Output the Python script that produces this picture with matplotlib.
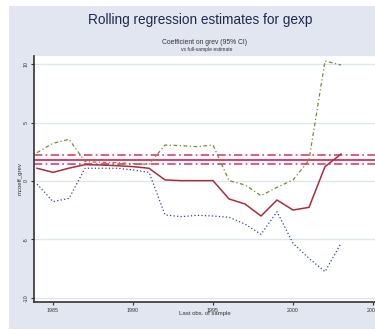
import matplotlib
matplotlib.use("Agg")
import matplotlib.pyplot as plt
from matplotlib.patches import Rectangle

plt.rcParams['font.family'] = ['Liberation Sans', 'DejaVu Sans']
plt.rcParams['axes.unicode_minus'] = False

years = list(range(1984, 2004))
coef = [1.09, 0.74, 1.10, 1.40, 1.37, 1.31, 1.23, 1.09, 0.09, 0.03,
        0.03, 0.03, -1.54, -1.97, -3.00, -1.63, -2.49, -2.26, 1.23, 2.31]
upper = [2.43, 3.23, 3.57, 1.66, 1.60, 1.57, 1.49, 1.43, 3.08, 3.03,
         2.94, 3.08, 0.03, -0.34, -1.26, -0.54, 0.09, 1.80, 10.28, 9.94]
lower = [-0.26, -1.77, -1.49, 1.09, 1.09, 1.09, 0.95, 0.74, -2.91, -3.06,
         -2.94, -3.00, -3.11, -3.69, -4.57, -2.63, -5.34, -6.63, -7.77, -5.34]
full_est = 1.80
full_lo = 1.43
full_hi = 2.20
xticks = [1985, 1990, 1995, 2000, 2005]
yticks = [-10, -5, 0, 5, 10]

W, H = 375, 330
fig = plt.figure(figsize=(W / 100, H / 100), dpi=100)
fig.patch.set_facecolor('white')
bg = Rectangle((9 / W, 0.003), 1, (324 / H) - 0.003,
               transform=fig.transFigure, facecolor='#e2e6f0',
               edgecolor='none', zorder=-10)
fig.patches.append(bg)

ax = fig.add_axes([34 / W, (H - 302) / H, 1 - 34 / W, (302 - 56) / H])
ax.set_zorder(5)
ax.set_facecolor('white')
ax.set_xlim(1983.81, 2005.125)
ax.set_ylim(-10.37, 10.71)

for v in yticks:
    ax.axhline(v, color='#dfe4ee', lw=0.9, zorder=1)

ax.axhline(full_hi, color='#d4466e', lw=1.2, ls=(0, (5, 2, 1, 2)), zorder=2)
ax.axhline(full_lo, color='#d4466e', lw=1.2, ls=(0, (5, 2, 1, 2)), zorder=2)
ax.axhline(full_est, color='#d0204a', lw=1.2, zorder=2)

ax.plot(years, upper, color='#6b8e3a', lw=0.9, ls=(0, (3, 2, 1, 2)), zorder=3)
ax.plot(years, lower, color='#2c4a8c', lw=0.9, ls=(0, (1, 1.8)), zorder=3)
ax.plot(years, coef, color='#a3303d', lw=1.1, zorder=4)

for s in ['top', 'right']:
    ax.spines[s].set_visible(False)
for s in ['left', 'bottom']:
    ax.spines[s].set_color('#333333')
    ax.spines[s].set_linewidth(1.2)

ax.set_xticks(xticks)
ax.set_xticklabels([str(t) for t in xticks])
ax.set_yticks(yticks)
ax.set_yticklabels([str(t) for t in yticks], rotation=90, va='center')
ax.tick_params(axis='both', length=2.5, width=0.8, color='#333333',
               labelsize=3.8, labelcolor='#333333', pad=1.5)

ax.set_xlabel('Last obs. of sample', fontsize=4.3, color='#333333', labelpad=-1)
ax.set_ylabel('mcoeff_grev', fontsize=4.3, color='#333333', labelpad=0.5)

fig.text(200 / W, 1 - 20 / H, 'Rolling regression estimates for gexp',
         ha='center', va='center', fontsize=9.8, color='#1e2a4e')
fig.text(204 / W, 1 - 42 / H, 'Coefficient on grev (95% CI)',
         ha='center', va='center', fontsize=4.9, color='#333333')
fig.text(207 / W, 1 - 50 / H, 'vs full-sample estimate',
         ha='center', va='center', fontsize=3.6, color='#333333')

fig.savefig('out.png', dpi=100)
